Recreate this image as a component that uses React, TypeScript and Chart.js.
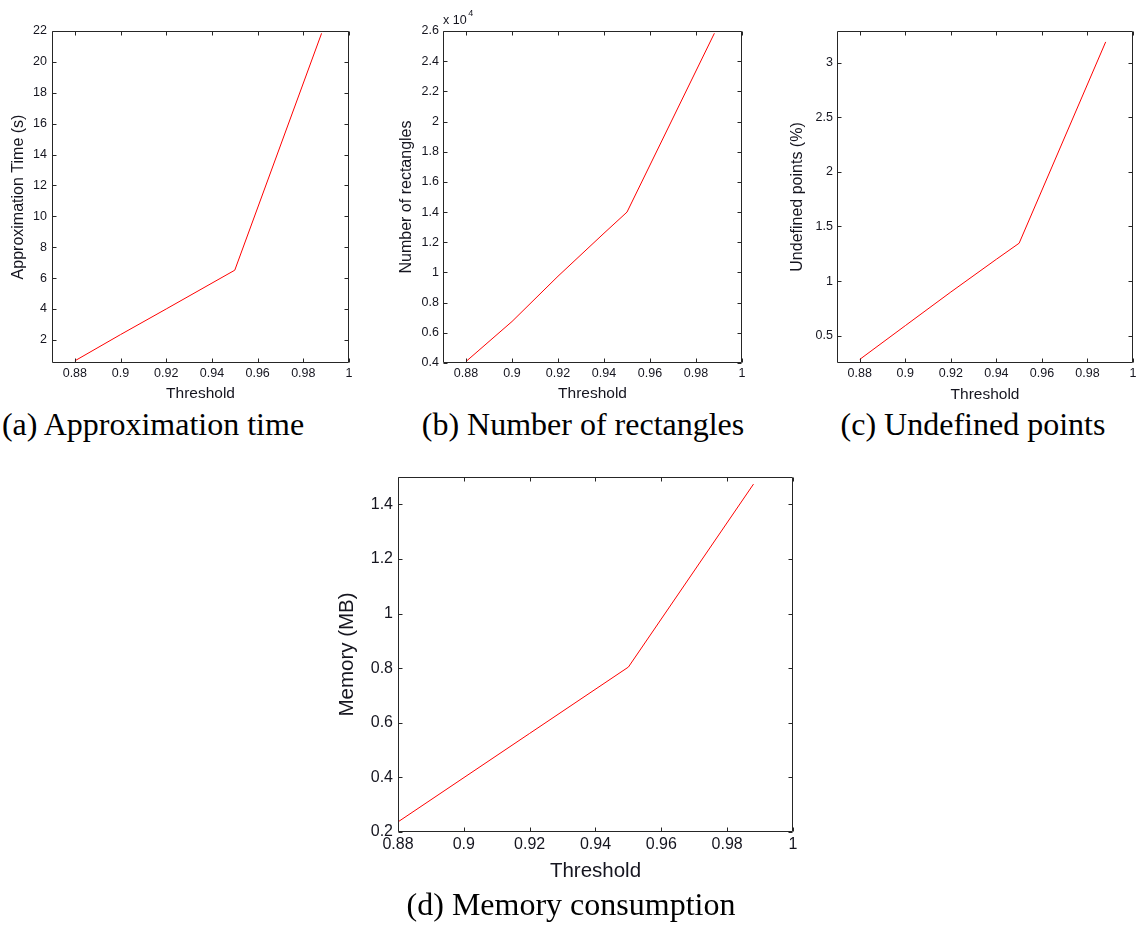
import React, { useEffect, useRef } from 'react';
import { Chart, registerables } from 'chart.js';

Chart.register(...registerables);

// ---------- data ----------
const xTicks = [0.88, 0.9, 0.92, 0.94, 0.96, 0.98, 1];

const thresholdA = [0.88, 0.9, 0.92, 0.95, 0.988];
const approxTime = [0.64, 2.34, 4.0, 6.51, 21.85];
const yTicksA = [2, 4, 6, 8, 10, 12, 14, 16, 18, 20, 22];

const thresholdB = [0.88, 0.9, 0.92, 0.94, 0.95, 0.988];
const rectangles = [4100, 6750, 9750, 12600, 14000, 25850];
const yTicksB = [4000, 6000, 8000, 10000, 12000, 14000, 16000, 18000, 20000, 22000, 24000, 26000];

const thresholdC = [0.88, 0.9, 0.92, 0.94, 0.95, 0.988];
const undefinedPts = [0.283, 0.592, 0.9, 1.2, 1.347, 3.19];
const yTicksC = [0.5, 1, 1.5, 2, 2.5, 3];

const thresholdD = [0.88, 0.92, 0.95, 0.988];
const memory = [0.237, 0.561, 0.804, 1.474];
const yTicksD = [0.2, 0.4, 0.6, 0.8, 1, 1.2, 1.4];

const xTitle = 'Threshold';
const yTitleA = 'Approximation Time (s)';
const yTitleB = 'Number of rectangles';
const yTitleC = 'Undefined points (%)';
const yTitleD = 'Memory (MB)';
const captionA = '(a) Approximation time';
const captionB = '(b) Number of rectangles';
const captionC = '(c) Undefined points';
const captionD = '(d) Memory consumption';
const exponentText = 'x 10';
const exponentPow = '4';

// ---------- helpers ----------
const SANS = "'Liberation Sans', Arial, sans-serif";
const TEXT = '#15151f';
const fmt = (v: number) => String(+v.toFixed(3));

type Spec = {
  xs: number[];
  ys: number[];
  xMin: number;
  xMax: number;
  yMin: number;
  yMax: number;
  yTicks: number[];
  yFmt: (v: number) => string;
  yTitle: string;
  area: { l: number; t: number; r: number; b: number };
  W: number;
  H: number;
  padTop: number;
  padRight: number;
  tickFont: number;
  xTitleFont: number;
  yTitleFont: number;
  yTitlePad: number;
  xTitlePad: number;
  xTickPad: number;
  yTickPad: number;
  exponent?: boolean;
};

const boxPlugin = {
  id: 'matlabBox',
  afterDatasetsDraw(chart: any) {
    const { ctx, chartArea, scales } = chart;
    const { left, right, top, bottom } = chartArea;
    const L = Math.round(left) + 0.5;
    const R = Math.round(right) - 0.5;
    const T = Math.round(top) + 0.5;
    const B = Math.round(bottom) - 0.5;
    ctx.save();
    ctx.strokeStyle = '#262626';
    ctx.lineWidth = 1;
    ctx.beginPath();
    ctx.rect(L, T, R - L, B - T);
    const len = 4;
    scales.x.ticks.forEach((t: any) => {
      const px = Math.round(scales.x.getPixelForValue(t.value)) + 0.5;
      ctx.moveTo(px, B);
      ctx.lineTo(px, B - len);
      ctx.moveTo(px, T);
      ctx.lineTo(px, T + len);
    });
    scales.y.ticks.forEach((t: any) => {
      const py = Math.round(scales.y.getPixelForValue(t.value)) + 0.5;
      ctx.moveTo(L, py);
      ctx.lineTo(L + len, py);
      ctx.moveTo(R, py);
      ctx.lineTo(R - len, py);
    });
    ctx.stroke();
    const opts = chart.options.plugins.matlabBox || {};
    if (opts.exponent) {
      ctx.fillStyle = TEXT;
      ctx.textAlign = 'left';
      ctx.textBaseline = 'alphabetic';
      ctx.font = `12.5px ${SANS}`;
      ctx.fillText(exponentText, left, top - 7);
      const w = ctx.measureText(exponentText).width;
      ctx.font = `9px ${SANS}`;
      ctx.fillText(exponentPow, left + w + 1.5, top - 15);
    }
    ctx.restore();
  },
};

function Panel({ s }: { s: Spec }) {
  const ref = useRef<HTMLCanvasElement | null>(null);
  const width = s.area.r - s.area.l + s.W + s.padRight;
  const height = s.area.b - s.area.t + s.padTop + s.H;
  const left = s.area.l - s.W;
  const top = s.area.t - s.padTop;

  useEffect(() => {
    if (!ref.current) return;
    const chart = new Chart(ref.current, {
      type: 'line',
      data: {
        datasets: [
          {
            data: s.xs.map((x, i) => ({ x, y: s.ys[i] })),
            borderColor: '#ff0000',
            borderWidth: 1,
            pointRadius: 0,
            fill: false,
            tension: 0,
          },
        ],
      },
      options: {
        animation: false,
        responsive: false,
        events: [],
        layout: { padding: { left: 0, top: s.padTop, right: s.padRight, bottom: 0 } },
        plugins: {
          legend: { display: false },
          tooltip: { enabled: false },
          // @ts-ignore
          matlabBox: { exponent: !!s.exponent },
        },
        scales: {
          x: {
            type: 'linear',
            min: s.xMin,
            max: s.xMax,
            grid: { display: false, drawTicks: false },
            border: { display: false },
            afterBuildTicks: (sc: any) => {
              sc.ticks = xTicks.map((v) => ({ value: v }));
            },
            afterFit: (sc: any) => {
              sc.height = s.H;
              sc.paddingLeft = 0;
              sc.paddingRight = 0;
            },
            ticks: {
              autoSkip: false,
              maxRotation: 0,
              padding: s.xTickPad,
              color: TEXT,
              font: { family: SANS, size: s.tickFont },
              callback: (v: any) => fmt(Number(v)),
            },
            title: {
              display: true,
              text: xTitle,
              color: TEXT,
              font: { family: SANS, size: s.xTitleFont },
              padding: { top: 0, bottom: s.xTitlePad },
            },
          },
          y: {
            type: 'linear',
            min: s.yMin,
            max: s.yMax,
            grid: { display: false, drawTicks: false },
            border: { display: false },
            afterBuildTicks: (sc: any) => {
              sc.ticks = s.yTicks.map((v) => ({ value: v }));
            },
            afterFit: (sc: any) => {
              sc.width = s.W;
              sc.paddingTop = 0;
              sc.paddingBottom = 0;
            },
            ticks: {
              autoSkip: false,
              padding: s.yTickPad,
              color: TEXT,
              font: { family: SANS, size: s.tickFont },
              callback: (v: any) => s.yFmt(Number(v)),
            },
            title: {
              display: true,
              text: s.yTitle,
              color: TEXT,
              font: { family: SANS, size: s.yTitleFont },
              padding: { top: s.yTitlePad, bottom: 0 },
            },
          },
        },
      } as any,
      plugins: [boxPlugin],
    });
    return () => chart.destroy();
  }, []);

  return (
    <canvas
      ref={ref}
      width={width}
      height={height}
      style={{ position: 'absolute', left, top, width, height }}
    />
  );
}

function Caption({ text, cx, baseline }: { text: string; cx: number; baseline: number }) {
  const size = 32;
  return (
    <div
      style={{
        position: 'absolute',
        left: cx - 250,
        width: 500,
        top: baseline - size * 0.8375,
        textAlign: 'center',
        fontFamily: "'Liberation Serif', 'Times New Roman', serif",
        fontSize: size,
        lineHeight: 1,
        color: '#000',
        whiteSpace: 'nowrap',
      }}
    >
      {text}
    </div>
  );
}

const specA: Spec = {
  xs: thresholdA, ys: approxTime, xMin: 0.87, xMax: 1, yMin: 0.5, yMax: 22,
  yTicks: yTicksA, yFmt: fmt, yTitle: yTitleA,
  area: { l: 52, t: 31, r: 349, b: 363 }, W: 52, H: 42, padTop: 20, padRight: 12,
  tickFont: 12.5, xTitleFont: 15.5, yTitleFont: 16, yTitlePad: 9.4, xTitlePad: 2.2, xTickPad: 3, yTickPad: 5,
};
const specB: Spec = {
  xs: thresholdB, ys: rectangles, xMin: 0.87, xMax: 1, yMin: 4000, yMax: 26000,
  yTicks: yTicksB, yFmt: (v) => fmt(v / 10000), yTitle: yTitleB,
  area: { l: 443, t: 31, r: 742, b: 363 }, W: 50, H: 42, padTop: 28, padRight: 12,
  tickFont: 12.5, xTitleFont: 15.5, yTitleFont: 16, yTitlePad: 3.9, xTitlePad: 2.2, xTickPad: 3, yTickPad: 4,
  exponent: true,
};
const specC: Spec = {
  xs: thresholdC, ys: undefinedPts, xMin: 0.87, xMax: 1, yMin: 0.25, yMax: 3.29,
  yTicks: yTicksC, yFmt: fmt, yTitle: yTitleC,
  area: { l: 837, t: 31, r: 1133, b: 363 }, W: 50, H: 42, padTop: 20, padRight: 8,
  tickFont: 12.5, xTitleFont: 15.5, yTitleFont: 16, yTitlePad: 0.7, xTitlePad: 1, xTickPad: 3, yTickPad: 4,
};
const specD: Spec = {
  xs: thresholdD, ys: memory, xMin: 0.88, xMax: 1, yMin: 0.2, yMax: 1.5,
  yTicks: yTicksD, yFmt: fmt, yTitle: yTitleD,
  area: { l: 398, t: 477, r: 793, b: 832 }, W: 70, H: 55, padTop: 20, padRight: 14,
  tickFont: 16, xTitleFont: 20.5, yTitleFont: 20.5, yTitlePad: 7.5, xTitlePad: 3, xTickPad: 3, yTickPad: 5,
};

export default function App() {
  return (
    <div
      style={{
        position: 'absolute',
        left: 0,
        top: 0,
        width: 1141,
        height: 926,
        background: '#ffffff',
        overflow: 'hidden',
      }}
    >
      <Panel s={specA} />
      <Panel s={specB} />
      <Panel s={specC} />
      <Panel s={specD} />
      <Caption text={captionA} cx={153} baseline={435} />
      <Caption text={captionB} cx={583} baseline={435} />
      <Caption text={captionC} cx={973} baseline={435} />
      <Caption text={captionD} cx={571} baseline={915} />
    </div>
  );
}
